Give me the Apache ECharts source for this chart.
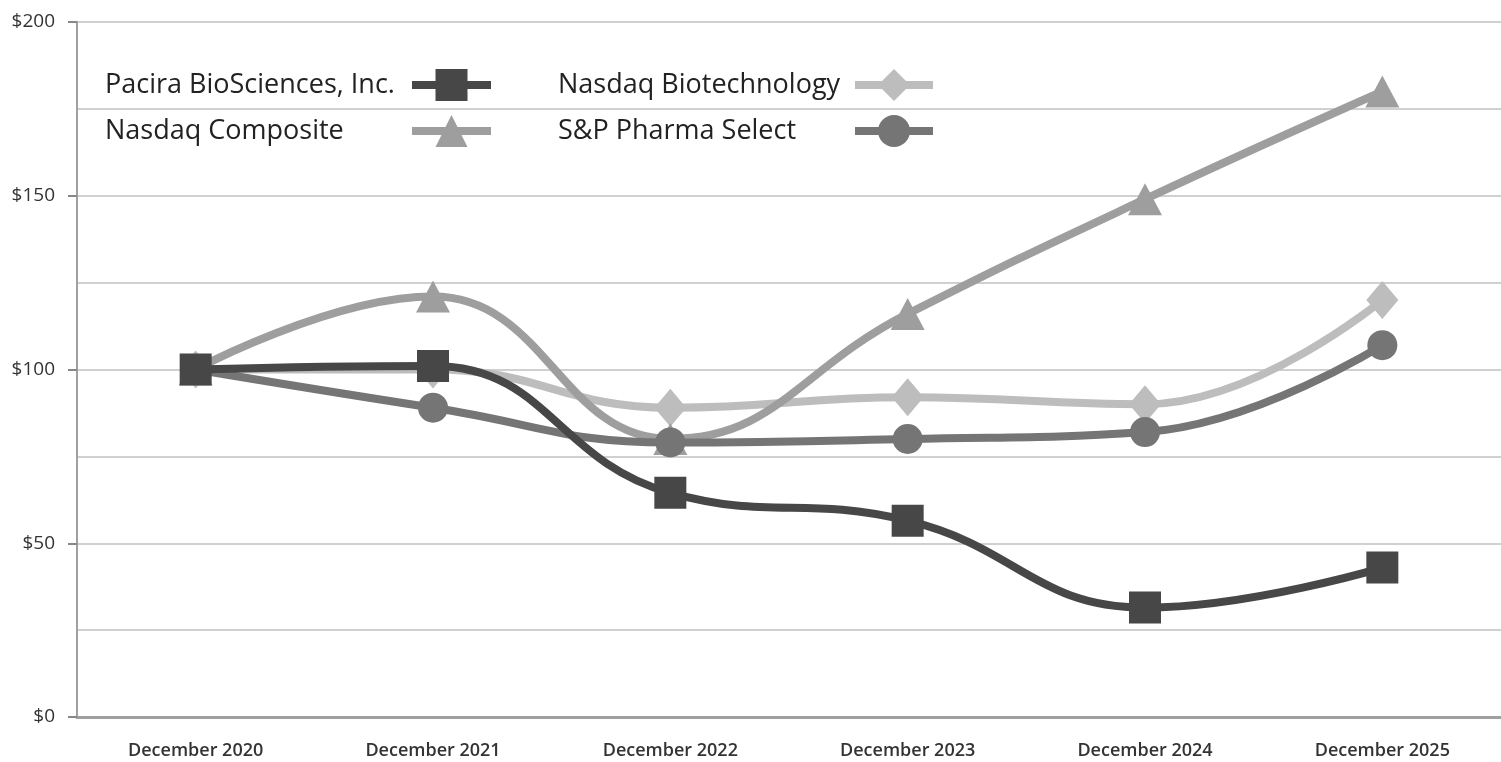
<!DOCTYPE html>
<html>
<head>
    <meta charset="utf-8"/>
    <script src="https://cdn.jsdelivr.net/npm/echarts@6/dist/echarts.min.js"></script>
    <style>
        html, body { margin: 0; padding: 0; background: #fff; }
        #main { width: 1501px; height: 762px; }
    </style>
</head>
<body>
<div id="main"></div>
<script type="text/javascript">
    // 横轴类目
    var categories = ['December 2020', 'December 2021', 'December 2022', 'December 2023', 'December 2024', 'December 2025'];
    // 各系列数值
    var pacira = [100, 101, 64.5, 56.5, 31.5, 43];
    var nasdaqComposite = [100, 121, 80, 116, 149, 180];
    var nasdaqBiotech = [100, 100, 89, 92, 90, 120];
    var spPharma = [100, 89, 79, 80, 82, 107];
    var yTicks = [0, 50, 100, 150, 200];

    var myChart = echarts.init(document.getElementById('main'));
    var font = '"Open Sans", "Noto Sans", sans-serif';

    function legendText(w) {
        return {
            fontFamily: font,
            fontSize: 27,
            color: '#222',
            rich: { a: { width: w, align: 'left', fontFamily: font, fontSize: 27, color: '#222', lineHeight: 32 } }
        };
    }

    var option = {
        backgroundColor: '#fff',
        animation: false,
        grid: { left: 77, top: 22, width: 1431, height: 695 },
        legend: [{
            data: ['Pacira BioSciences, Inc.', 'Nasdaq Composite'],
            orient: 'vertical', align: 'right', left: 105, top: 69, padding: 0,
            itemWidth: 79, itemHeight: 40, itemGap: 14,
            lineStyle: { width: 8 },
            formatter: function (n) { return '{a|' + n + '}'; },
            textStyle: legendText(302)
        }, {
            data: ['Nasdaq Biotechnology', 'S&P Pharma Select'],
            orient: 'vertical', align: 'right', left: 558, top: 69, padding: 0,
            itemWidth: 78, itemHeight: 40, itemGap: 14,
            lineStyle: { width: 8 },
            formatter: function (n) { return '{a|' + n + '}'; },
            textStyle: legendText(292)
        }],
        xAxis: {
            type: 'category',
            data: categories,
            axisLine: { lineStyle: { color: '#a0a0a0', width: 3 } },
            axisTick: { alignWithLabel: true, length: 6, lineStyle: { color: '#666', width: 1 } },
            axisLabel: { margin: 25, fontFamily: font, fontSize: 18, fontWeight: 600, color: '#333' },
            splitLine: { show: false }
        },
        yAxis: [{
            type: 'value', min: 0, max: 200, interval: 50,
            axisLine: { show: true, lineStyle: { color: '#a0a0a0', width: 2 } },
            axisTick: { show: true, length: 9, lineStyle: { color: '#888', width: 2 } },
            axisLabel: {
                margin: 22, fontFamily: font, fontSize: 19, color: '#333',
                formatter: function (v) { return yTicks.indexOf(v) >= 0 ? '$' + v : ''; }
            },
            splitLine: { lineStyle: { color: '#8c8c8c', width: 2 } }
        }, {
            type: 'value', min: 0, max: 200, interval: 25,
            axisLine: { show: false }, axisTick: { show: false }, axisLabel: { show: false },
            splitLine: { lineStyle: { color: '#d0d0d0', width: 2 } },
            z: 0
        }],
        series: [{
            name: 'Nasdaq Biotechnology', type: 'line', data: nasdaqBiotech, smooth: 0.45,
            symbol: 'diamond', symbolSize: [32, 38], showAllSymbol: true,
            lineStyle: { color: '#bdbdbd', width: 8 }, itemStyle: { color: '#bdbdbd' }, z: 2
        }, {
            name: 'Nasdaq Composite', type: 'line', data: nasdaqComposite, smooth: 0.45,
            symbol: 'triangle', symbolSize: [34, 32],
            lineStyle: { color: '#9e9e9e', width: 8 }, itemStyle: { color: '#9e9e9e' }, z: 3
        }, {
            name: 'S&P Pharma Select', type: 'line', data: spPharma, smooth: 0.45,
            symbol: 'circle', symbolSize: 30,
            lineStyle: { color: '#757575', width: 8 }, itemStyle: { color: '#757575' }, z: 4
        }, {
            name: 'Pacira BioSciences, Inc.', type: 'line', data: pacira, smooth: 0.45,
            symbol: 'rect', symbolSize: 32,
            lineStyle: { color: '#474747', width: 8 }, itemStyle: { color: '#474747' }, z: 5
        }]
    };
    myChart.setOption(option);
</script>
</body>
</html>
